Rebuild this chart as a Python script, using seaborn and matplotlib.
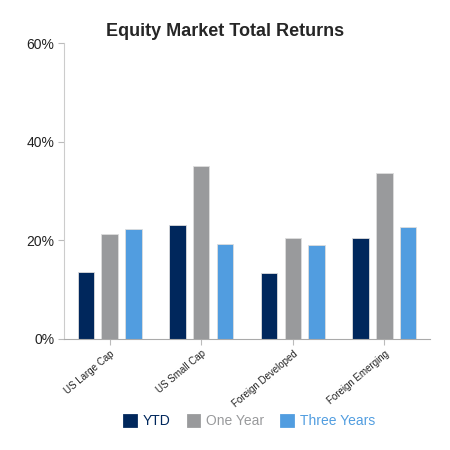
import seaborn as sns
import matplotlib.pyplot as plt
import pandas as pd
from matplotlib.ticker import FuncFormatter

categories = ["US Large Cap", "US Small Cap", "Foreign Developed", "Foreign Emerging"]
series = ["YTD", "One Year", "Three Years"]
ytd = [13.6, 23.2, 13.4, 20.4]
one_year = [21.3, 35.1, 20.4, 33.7]
three_years = [22.2, 19.3, 19.1, 22.7]
colors = ["#00275C", "#999A9C", "#519DE0"]

df = pd.DataFrame({
    "category": categories * 3,
    "series": [s for s in series for _ in categories],
    "value": ytd + one_year + three_years,
})

sns.set_style("white")
plt.rcParams["font.family"] = ["Liberation Sans", "DejaVu Sans"]

fig = plt.figure(figsize=(4.5, 4.5), dpi=100)
ax = fig.add_axes([0.142, 0.247, 0.814, 0.657])

sns.barplot(data=df, x="category", y="value", hue="series", palette=colors,
            saturation=1, width=0.78, gap=0.31, ax=ax, legend=False, errorbar=None,
            edgecolor="#dddddd", linewidth=0.6)

ax.set_xlim(-0.5, 3.5)
ax.set_ylim(0, 60)
ax.set_yticks([0, 20, 40, 60])
ax.yaxis.set_major_formatter(FuncFormatter(lambda v, p: f"{v:.0f}%"))
ax.set_xlabel("")
ax.set_ylabel("")
ax.tick_params(axis="y", labelsize=10, length=4, color="#bbbbbb", left=True, pad=3,
               labelcolor="#222222")
ax.tick_params(axis="x", labelsize=7, length=4, color="#bbbbbb", bottom=True, pad=3,
               labelcolor="#222222")
plt.setp(ax.get_xticklabels(), rotation=40, ha="right", rotation_mode="anchor")
for side in ["top", "right"]:
    ax.spines[side].set_visible(False)
ax.spines["left"].set_color("#cccccc")
ax.spines["bottom"].set_color("#aaaaaa")

fig.suptitle("Equity Market Total Returns", x=0.5, y=0.95, fontsize=13, fontweight="bold")

handles = [plt.Rectangle((0, 0), 1, 1, fc=c, ec=c, joinstyle="round", lw=2) for c in colors]
leg = fig.legend(handles, series, loc="center", bbox_to_anchor=(0.555, 0.064), ncol=3,
                 frameon=False, fontsize=10, handlelength=0.85, handleheight=0.85,
                 columnspacing=1.2, handletextpad=0.5)
for t, c in zip(leg.get_texts(), colors):
    t.set_color(c)

fig.savefig("out.png", dpi=100)
